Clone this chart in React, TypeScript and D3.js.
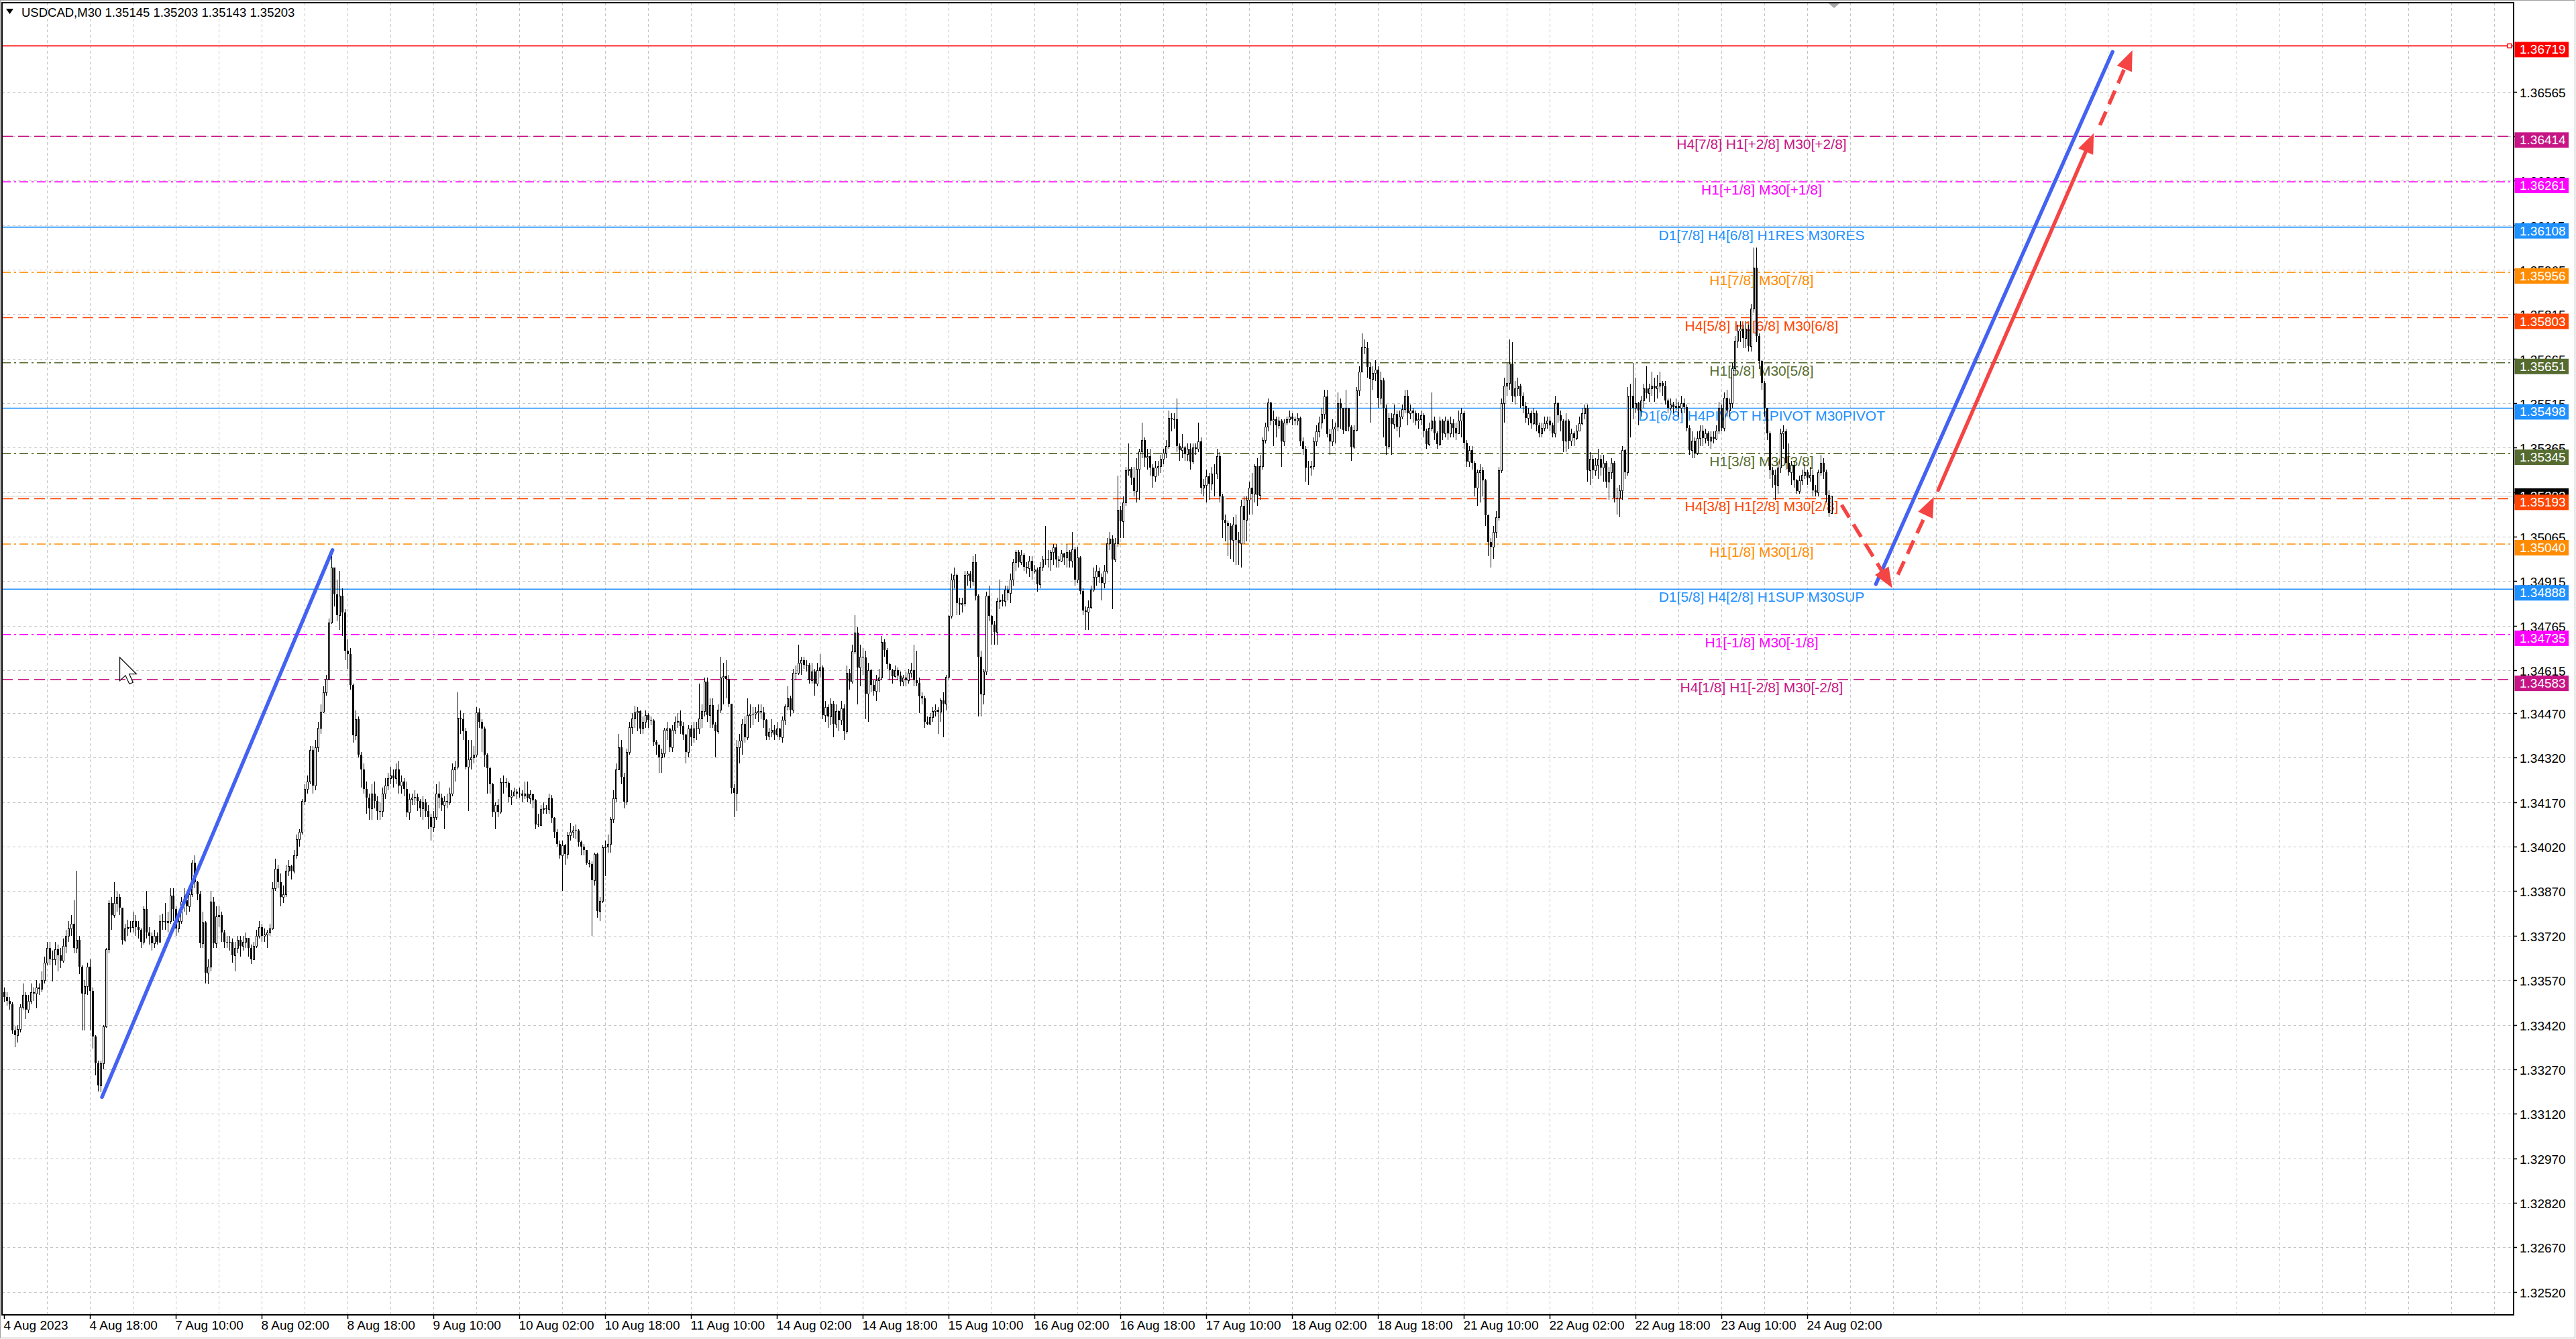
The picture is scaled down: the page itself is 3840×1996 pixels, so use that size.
import React from 'react';
import * as d3 from 'd3';

// ---------- DATA (prices in points above 1.30000) ----------
const FIRST_OPEN = 3530;
const closes = [
3515,3500,3490,3400,3385,3405,3480,3520,3470,3500,
3530,3525,3545,3540,3570,3630,3680,3640,3640,3675,
3655,3635,3685,3720,3745,3760,3680,3705,3615,3525,
3550,3615,3535,3380,3290,3215,3290,3415,3675,3830,
3790,3830,3850,3815,3705,3745,3750,3750,3770,3750,
3740,3700,3810,3730,3720,3695,3720,3700,3770,3770,
3765,3770,3855,3810,3745,3770,3835,3840,3820,3860,
3965,3900,3860,3695,3765,3595,3615,3835,3695,3785,
3790,3730,3700,3700,3700,3655,3680,3705,3685,3700,
3712,3680,3640,3685,3720,3750,3720,3725,3730,3745,
3880,3945,3900,3850,3860,3940,3955,3940,3990,4045,
4070,4175,4215,4240,4345,4225,4355,4420,4475,4540,
4585,4775,4960,4870,4800,4865,4810,4680,4670,4565,
4395,4450,4330,4280,4215,4185,4150,4200,4175,4140,
4140,4200,4225,4250,4260,4250,4280,4225,4240,4215,
4135,4180,4185,4187,4175,4150,4170,4140,4120,4085,
4120,4200,4185,4160,4175,4170,4200,4280,4290,4455,
4450,4410,4290,4315,4322,4330,4473,4440,4418,4330,
4285,4230,4138,4160,4138,4238,4238,4234,4188,4193,
4205,4200,4200,4192,4200,4184,4196,4176,4096,4092,
4146,4150,4146,4184,4117,4071,4029,3992,4025,3996,
4058,4071,4075,4075,4037,4021,4008,3966,3962,3908,
3996,3803,3837,4017,4021,4029,4113,4184,4280,4356,
4255,4172,4339,4423,4452,4473,4477,4418,4440,4464,
4448,4446,4372,4364,4322,4335,4414,4418,4356,4414,
4440,4444,4427,4397,4339,4418,4389,4418,4418,4452,
4477,4577,4464,4498,4431,4410,4481,4590,4594,4586,
4502,4218,4201,4356,4377,4435,4389,4464,4469,4469,
4473,4476,4473,4448,4393,4406,4414,4397,4418,4389,
4448,4494,4519,4481,4607,4607,4640,4649,4632,4632,
4582,4611,4569,4615,4623,4464,4490,4460,4502,4435,
4477,4448,4485,4410,4607,4577,4678,4741,4623,4661,
4657,4536,4615,4565,4544,4582,4590,4711,4682,4636,
4615,4594,4615,4598,4577,4590,4582,4607,4615,4582,
4573,4527,4519,4440,4435,4456,4477,4481,4474,4513,
4503,4592,4798,4920,4935,4842,4837,4842,4935,4940,
4915,4979,4866,4660,4533,4611,4866,4798,4768,4744,
4847,4852,4847,4886,4876,4920,4979,5013,4979,5004,
4964,4959,4984,4950,4954,4905,4964,4989,4989,4989,
5013,5028,4989,4984,5008,4994,5013,4984,5023,4920,
4994,4881,4817,4812,4827,4886,4930,4950,4930,4910,
4950,5043,5057,4989,5043,5156,5116,5180,5288,5293,
5263,5219,5293,5352,5391,5332,5337,5298,5268,5298,
5303,5327,5347,5371,5465,5460,5460,5371,5357,5366,
5342,5362,5317,5366,5362,5386,5229,5239,5268,5244,
5278,5278,5337,5200,5121,5111,5102,5053,5106,5053,
5043,5170,5121,5190,5229,5210,5303,5205,5303,5391,
5435,5518,5455,5460,5440,5455,5386,5450,5460,5470,
5460,5455,5465,5386,5362,5298,5298,5303,5386,5420,
5450,5479,5538,5411,5386,5430,5435,5514,5499,5425,
5499,5435,5367,5425,5558,5622,5705,5700,5636,5597,
5617,5627,5533,5592,5499,5371,5465,5445,5479,5435,
5470,5494,5540,5481,5490,5481,5456,5460,5473,5423,
5377,5431,5456,5414,5377,5456,5414,5456,5414,5448,
5431,5414,5456,5481,5381,5318,5356,5314,5230,5281,
5289,5255,5138,5046,5030,5080,5130,5289,5515,5574,
5582,5649,5540,5565,5574,5540,5506,5465,5481,5448,
5481,5440,5414,5431,5448,5456,5440,5414,5515,5473,
5456,5389,5456,5389,5414,5398,5423,5448,5481,5498,
5289,5327,5289,5306,5327,5297,5314,5251,5281,5314,
5197,5197,5222,5356,5281,5540,5540,5498,5515,5490,
5523,5565,5548,5565,5574,5565,5574,5582,5574,5523,
5498,5511,5502,5506,5498,5515,5502,5431,5356,5389,
5348,5398,5423,5398,5414,5389,5402,5394,5423,5498,
5431,5532,5490,5515,5632,5724,5758,5766,5733,5766,
5707,5833,5971,5741,5657,5582,5498,5414,5289,5272,
5239,5297,5414,5419,5314,5281,5306,5255,5218,5255,
5272,5281,5264,5272,5222,5214,5281,5314,5281,5205,
5145,5203
];
const highs = [
3545,3530,3515,3495,3415,3420,3490,3560,3530,3520,
3560,3545,3570,3560,3600,3650,3700,3700,3670,3700,
3690,3680,3710,3740,3770,3790,3840,3940,3720,3620,
3570,3630,3640,3545,3385,3300,3300,3420,3680,3840,
3850,3900,3870,3860,3720,3760,3775,3770,3800,3790,
3770,3745,3820,3870,3750,3730,3740,3730,3790,3795,
3830,3800,3880,3880,3820,3790,3850,3880,3860,3880,
3975,3990,3905,3870,3800,3770,3640,3870,3850,3820,
3820,3800,3740,3720,3720,3710,3700,3720,3720,3720,
3730,3710,3690,3700,3740,3770,3760,3745,3740,3760,
3900,3980,3960,3930,3890,3960,3975,3960,4010,4060,
4080,4180,4230,4260,4360,4360,4380,4440,4500,4560,
4600,4790,5020,4960,4920,4950,4890,4820,4720,4690,
4570,4480,4460,4340,4300,4240,4200,4230,4240,4190,
4170,4220,4250,4270,4290,4280,4300,4310,4260,4250,
4240,4200,4200,4210,4200,4180,4190,4180,4160,4130,
4140,4230,4240,4200,4190,4200,4220,4300,4310,4540,
4480,4470,4420,4380,4380,4360,4490,4485,4450,4425,
4335,4290,4235,4170,4180,4250,4260,4250,4240,4210,
4220,4215,4220,4210,4240,4240,4210,4200,4180,4130,
4160,4170,4160,4200,4195,4120,4080,4040,4040,4030,
4070,4100,4090,4095,4080,4040,4030,4010,3975,3970,
4000,4000,3850,4025,4040,4060,4120,4210,4300,4400,
4380,4270,4350,4440,4470,4495,4490,4480,4460,4480,
4470,4460,4450,4380,4360,4350,4420,4440,4420,4430,
4460,4470,4480,4440,4400,4430,4430,4440,4440,4570,
4500,4590,4590,4520,4520,4440,4500,4660,4640,4650,
4600,4500,4230,4380,4400,4450,4460,4520,4500,4490,
4490,4500,4500,4490,4450,4420,4450,4430,4440,4420,
4460,4500,4560,4530,4620,4630,4700,4660,4660,4650,
4640,4640,4620,4640,4670,4630,4510,4500,4520,4510,
4500,4480,4510,4500,4630,4620,4700,4800,4760,4700,
4690,4680,4640,4620,4580,4600,4620,4730,4720,4690,
4640,4620,4630,4625,4610,4600,4610,4620,4640,4700,
4680,4590,4540,4530,4460,4470,4490,4500,4490,4520,
4540,4600,4800,4940,4960,4940,4860,4860,4950,4950,
4950,5000,5005,4870,4680,4620,4880,4900,4800,4780,
4860,4920,4870,4900,4900,4940,4990,5020,5020,5020,
5010,4980,5000,5000,4970,4960,4980,5000,5100,5020,
5020,5040,5040,5000,5020,5010,5040,5020,5080,5030,
5030,5000,4890,4830,4850,4900,4960,4970,4960,4940,
4970,5060,5080,5070,5060,5270,5170,5200,5300,5380,
5300,5300,5330,5360,5450,5400,5360,5360,5310,5320,
5320,5340,5360,5390,5490,5480,5480,5530,5380,5410,
5370,5380,5380,5380,5380,5450,5400,5260,5290,5280,
5300,5310,5360,5350,5210,5140,5120,5110,5130,5140,
5080,5190,5200,5200,5250,5280,5310,5330,5340,5400,
5450,5530,5520,5490,5470,5470,5460,5460,5470,5490,
5480,5470,5480,5470,5400,5370,5320,5320,5400,5440,
5470,5500,5560,5560,5430,5460,5450,5550,5530,5460,
5560,5500,5440,5440,5570,5640,5750,5730,5720,5650,
5640,5660,5640,5620,5600,5510,5480,5480,5510,5490,
5490,5510,5560,5560,5510,5500,5490,5480,5490,5480,
5430,5450,5550,5470,5420,5470,5460,5470,5460,5470,
5460,5450,5490,5500,5490,5390,5370,5370,5320,5290,
5310,5300,5260,5140,5060,5100,5150,5300,5530,5600,
5650,5730,5720,5590,5600,5580,5550,5520,5500,5490,
5500,5490,5450,5450,5470,5470,5470,5450,5540,5520,
5490,5460,5480,5460,5430,5420,5440,5470,5500,5510,
5510,5350,5340,5330,5360,5340,5340,5320,5300,5330,
5320,5230,5240,5370,5360,5570,5580,5650,5600,5520,
5540,5580,5640,5580,5620,5600,5610,5620,5590,5590,
5530,5530,5520,5530,5520,5540,5530,5510,5440,5420,
5400,5420,5440,5440,5430,5420,5420,5420,5440,5520,
5510,5550,5560,5530,5650,5740,5780,5790,5780,5790,
5780,5850,6040,6040,5750,5660,5590,5500,5420,5300,
5290,5320,5430,5440,5430,5380,5320,5320,5260,5270,
5290,5310,5290,5300,5290,5240,5290,5340,5330,5290,
5220,5203
];
const lows = [
3495,3485,3470,3390,3345,3360,3395,3470,3440,3460,
3490,3500,3475,3520,3530,3560,3620,3620,3565,3620,
3600,3610,3630,3660,3700,3720,3660,3660,3590,3400,
3400,3520,3400,3340,3250,3195,3193,3270,3410,3660,
3740,3780,3800,3790,3690,3700,3720,3730,3730,3720,
3710,3680,3690,3710,3690,3670,3680,3690,3700,3740,
3740,3730,3760,3770,3720,3730,3760,3800,3790,3800,
3850,3880,3840,3680,3680,3560,3556,3600,3680,3680,
3750,3700,3680,3680,3670,3630,3600,3660,3650,3670,
3680,3650,3625,3640,3680,3710,3700,3700,3680,3720,
3740,3870,3880,3820,3830,3850,3920,3910,3930,3980,
4020,4060,4160,4200,4230,4200,4210,4340,4400,4470,
4530,4580,4770,4830,4780,4750,4730,4650,4620,4550,
4370,4380,4320,4220,4200,4130,4110,4110,4150,4110,
4110,4120,4180,4210,4230,4220,4230,4200,4200,4190,
4120,4110,4160,4160,4140,4120,4110,4120,4080,4040,
4070,4110,4150,4140,4080,4150,4160,4190,4240,4280,
4400,4380,4280,4140,4280,4300,4320,4420,4340,4290,
4200,4200,4120,4080,4120,4130,4200,4220,4170,4160,
4190,4180,4185,4170,4180,4170,4165,4150,4080,4085,
4090,4130,4130,4130,4100,4050,4020,3980,3870,3960,
3980,4040,4050,4045,4020,3990,3990,3960,3950,3720,
3890,3780,3770,3830,3920,4000,4000,4100,4170,4280,
4230,4150,4160,4330,4400,4420,4410,4400,4400,4420,
4420,4430,4360,4330,4270,4270,4320,4380,4340,4340,
4400,4420,4400,4380,4300,4320,4360,4370,4380,4400,
4420,4460,4440,4420,4420,4320,4400,4470,4500,4520,
4490,4200,4120,4140,4300,4330,4370,4380,4420,4430,
4450,4440,4450,4420,4380,4380,4390,4380,4390,4380,
4370,4430,4480,4460,4470,4580,4600,4600,4620,4610,
4570,4570,4530,4560,4590,4450,4440,4420,4430,4390,
4420,4410,4430,4380,4400,4550,4570,4670,4500,4560,
4600,4450,4440,4540,4530,4510,4540,4580,4660,4620,
4580,4570,4590,4580,4560,4560,4560,4570,4590,4560,
4560,4470,4500,4420,4430,4430,4440,4460,4400,4440,
4390,4480,4580,4790,4890,4800,4800,4810,4830,4900,
4890,4900,4850,4460,4460,4500,4600,4780,4700,4700,
4700,4820,4830,4830,4850,4840,4900,4950,4960,4970,
4950,4940,4930,4920,4940,4880,4890,4950,4970,4960,
4950,4970,4960,4960,4980,4970,4960,4960,4960,4900,
4910,4870,4800,4750,4750,4820,4880,4900,4910,4850,
4890,4940,5020,4820,4980,5030,5060,5060,5170,5270,
5240,5200,5180,5190,5330,5300,5290,5270,5230,5250,
5270,5280,5310,5330,5360,5420,5430,5350,5320,5330,
5320,5320,5290,5310,5340,5350,5210,5200,5180,5190,
5220,5200,5260,5180,5060,5050,5000,4990,4980,4970,
4970,4960,5040,5050,5140,5140,5180,5170,5190,5290,
5380,5420,5440,5370,5400,5430,5300,5370,5440,5450,
5440,5440,5440,5370,5340,5250,5240,5270,5290,5370,
5400,5430,5460,5400,5340,5370,5380,5420,5430,5410,
5420,5420,5320,5360,5420,5540,5620,5680,5600,5450,
5560,5590,5500,5510,5400,5340,5360,5340,5430,5420,
5400,5460,5480,5440,5460,5450,5440,5430,5440,5400,
5360,5370,5420,5390,5360,5370,5390,5400,5390,5400,
5400,5390,5420,5400,5360,5300,5300,5290,5200,5170,
5180,5200,5100,5000,4960,4990,5060,5120,5280,5450,
5540,5560,5520,5510,5540,5500,5480,5450,5440,5430,
5440,5420,5400,5400,5420,5430,5420,5400,5400,5450,
5420,5350,5350,5360,5370,5370,5390,5420,5440,5460,
5250,5240,5260,5270,5260,5270,5250,5230,5190,5260,
5180,5140,5130,5190,5260,5270,5400,5460,5480,5440,
5470,5500,5530,5520,5540,5520,5530,5550,5540,5510,
5480,5490,5480,5490,5470,5480,5480,5420,5340,5330,
5330,5340,5370,5370,5380,5370,5360,5380,5390,5410,
5420,5420,5470,5470,5500,5610,5700,5720,5700,5700,
5690,5690,5820,5720,5630,5560,5470,5390,5260,5230,
5190,5210,5280,5360,5290,5270,5240,5230,5210,5210,
5240,5260,5240,5250,5200,5200,5200,5270,5260,5180,
5130,5143
];

const timeLabels = [
  '4 Aug 2023', '4 Aug 18:00', '7 Aug 10:00', '8 Aug 02:00', '8 Aug 18:00', '9 Aug 10:00',
  '10 Aug 02:00', '10 Aug 18:00', '11 Aug 10:00', '14 Aug 02:00', '14 Aug 18:00', '15 Aug 10:00',
  '16 Aug 02:00', '16 Aug 18:00', '17 Aug 10:00', '18 Aug 02:00', '18 Aug 18:00', '21 Aug 10:00',
  '22 Aug 02:00', '22 Aug 18:00', '23 Aug 10:00', '24 Aug 02:00'
];
const BARS_PER_LABEL = 32;
const BARS_PER_VGRID = 16;

const priceTicks = [
  '1.36565', '1.36415', '1.36265', '1.36115', '1.35965', '1.35815', '1.35665', '1.35515',
  '1.35365', '1.35215', '1.35065', '1.34915', '1.34765', '1.34615', '1.34470', '1.34320',
  '1.34170', '1.34020', '1.33870', '1.33720', '1.33570', '1.33420', '1.33270', '1.33120',
  '1.32970', '1.32820', '1.32670', '1.32520'
];

const levelPrices = [1.36719, 1.36414, 1.36261, 1.36108, 1.35956, 1.35803, 1.35651, 1.35498, 1.35345, 1.35193, 1.35040, 1.34888, 1.34735, 1.34583];
const levelNames = [
  '', 'H4[7/8] H1[+2/8] M30[+2/8]', 'H1[+1/8] M30[+1/8]', 'D1[7/8] H4[6/8] H1RES M30RES',
  'H1[7/8] M30[7/8]', 'H4[5/8] H1[6/8] M30[6/8]', 'H1[5/8] M30[5/8]', 'D1[6/8] H4PIVOT H1PIVOT M30PIVOT',
  'H1[3/8] M30[3/8]', 'H4[3/8] H1[2/8] M30[2/8]', 'H1[1/8] M30[1/8]', 'D1[5/8] H4[2/8] H1SUP M30SUP',
  'H1[-1/8] M30[-1/8]', 'H4[1/8] H1[-2/8] M30[-2/8]'
];
const levelKinds = ['top', 'pm2', 'pm1', 'blue', 'o', 'r', 'g', 'blue', 'g', 'r', 'o', 'blue', 'pm1', 'pm2'];

const bidPrice = 1.35203;
const symbolTitle = 'USDCAD,M30  1.35145 1.35203 1.35143 1.35203';

// trend lines: [bar1, price1, bar2, price2]
const blueLines = [
  [36.5, 1.33176, 122.4, 1.35020],
  [697.6, 1.34905, 785.8, 1.36699]
];
// red path segments: [bar1, price1, bar2, price2, dashed(1)/solid(0)]
const redArrows = [
  [684.8, 1.35172, 703.7, 1.34892, 1],
  [705.8, 1.34937, 719.2, 1.35199, 1],
  [720.8, 1.35222, 778.8, 1.36425, 0],
  [781.1, 1.36452, 793.2, 1.36704, 1]
];

// ---------- STYLES ----------
const W = 3840, H = 1996;
const PL = 3, PT = 4, PR = 3747, PB = 1960;
const FONT = '"Liberation Sans", Arial, sans-serif';
const kindStyle: Record<string, { color: string; dash: string | undefined }> = {
  top: { color: '#FF0000', dash: undefined },
  pm2: { color: '#C71585', dash: '16,8' },
  pm1: { color: '#FF00FF', dash: '13,5,3,5' },
  blue: { color: '#1E90FF', dash: undefined },
  o: { color: '#FF8C00', dash: '13,5,3,5' },
  r: { color: '#FF4500', dash: '16,8' },
  g: { color: '#556B2F', dash: '13,5,3,5' }
};
const BLUE = '#4462F2';
const RED = '#F54444';

const x = d3.scaleLinear().domain([0, 1]).range([6, 10]);
const y = d3.scaleLinear().domain([1.36565, 1.32520]).range([136.5, 1925.6]);
const pt = (v: number) => 1.3 + v / 100000;

function Arrow({ x1, y1, x2, y2, dashed, color }: any) {
  const dx = x2 - x1, dy = y2 - y1;
  const len = Math.hypot(dx, dy);
  const ux = dx / len, uy = dy / len;
  const hl = 30, hw = 12;
  const bx = x2 - ux * hl, by = y2 - uy * hl;
  const lx = x2 - ux * (hl * 0.7), ly = y2 - uy * (hl * 0.7);
  const pts = [[x2, y2], [bx - uy * hw, by + ux * hw], [bx + uy * hw, by - ux * hw]];
  return (
    <g>
      <line x1={x1} y1={y1} x2={lx} y2={ly} stroke={color} strokeWidth={5.5}
        strokeDasharray={dashed ? '22,12' : undefined} strokeLinecap={dashed ? 'butt' : 'round'} />
      <polygon points={pts.map(p => p.join(',')).join(' ')} fill={color} />
    </g>
  );
}

export default function App() {
  const N = closes.length;
  const candles = closes.map((c, i) => {
    const o = i === 0 ? FIRST_OPEN : closes[i - 1];
    const h = Math.max(highs[i], o, c);
    const l = Math.min(lows[i], o, c);
    return { i, o, h, l, c };
  });

  const vgrid: number[] = [];
  for (let b = BARS_PER_VGRID; x(b) < PR - 2; b += BARS_PER_VGRID) vgrid.push(b);

  return (
    <svg width={W} height={H} style={{ position: 'absolute', left: 0, top: 0, display: 'block', background: '#fff' }}
      fontFamily={FONT}>
      <rect x={0} y={0} width={W} height={H} fill="#fff" />
      {/* window frame */}
      <rect x={0.5} y={0.5} width={W - 2} height={H - 2} fill="none" stroke="#A0A0A0" strokeWidth={1} />

      {/* grid */}
      <g stroke="#C3C3C3" strokeWidth={1.2} strokeDasharray="4,4" shapeRendering="crispEdges">
        {priceTicks.map(t => (
          <line key={t} x1={PL} x2={PR} y1={Math.round(y(+t)) + 0.5} y2={Math.round(y(+t)) + 0.5} />
        ))}
        {vgrid.map(b => (
          <line key={b} x1={Math.round(x(b)) + 0.5} x2={Math.round(x(b)) + 0.5} y1={PT} y2={PB} />
        ))}
      </g>

      {/* level lines */}
      {levelPrices.map((p, k) => {
        const st = kindStyle[levelKinds[k]];
        const yy = y(p);
        return <line key={'lv' + k} x1={PL} x2={PR} y1={yy} y2={yy} stroke={st.color} strokeWidth={1.6}
          strokeDasharray={st.dash} />;
      })}
      {/* top line marker */}
      <rect x={PR - 9} y={y(levelPrices[0]) - 3} width={6} height={6} fill="#fff" stroke="#FF0000" strokeWidth={1.5} />

      {/* bid line */}
      <line x1={PL} x2={PR} y1={Math.round(y(bidPrice)) + 0.5} y2={Math.round(y(bidPrice)) + 0.5}
        stroke="#C0C0C0" strokeWidth={1.2} />

      {/* level labels */}
      {levelPrices.map((p, k) => levelNames[k] ? (
        <text key={'lt' + k} x={2626} y={y(p) + 19} textAnchor="middle" fontSize={21}
          fill={kindStyle[levelKinds[k]].color}>{levelNames[k]}</text>
      ) : null)}

      {/* candles */}
      <g shapeRendering="crispEdges">
        {candles.map(d => {
          const cx = Math.round(x(d.i));
          const yo = y(pt(d.o)), yc = y(pt(d.c));
          const top = Math.round(Math.min(yo, yc)), bot = Math.round(Math.max(yo, yc));
          const bull = d.c >= d.o;
          return (
            <g key={d.i}>
              <line x1={cx + 0.5} x2={cx + 0.5} y1={Math.round(y(pt(d.h)))} y2={Math.round(y(pt(d.l)))}
                stroke="#000" strokeWidth={1} />
              {bot - top < 1 ? (
                <line x1={cx - 1} x2={cx + 2} y1={top + 0.5} y2={top + 0.5} stroke="#000" strokeWidth={1} />
              ) : bull ? (
                <rect x={cx - 0.5} y={top + 0.5} width={2} height={bot - top - 1 < 1 ? 1 : bot - top - 1 + 1}
                  fill="#fff" stroke="#000" strokeWidth={1} />
              ) : (
                <rect x={cx - 1} y={top} width={3} height={bot - top} fill="#000" />
              )}
            </g>
          );
        })}
      </g>

      {/* trend lines */}
      {blueLines.map((l, k) => (
        <line key={'bl' + k} x1={x(l[0])} y1={y(l[1])} x2={x(l[2])} y2={y(l[3])}
          stroke={BLUE} strokeWidth={5.5} strokeLinecap="round" />
      ))}
      {redArrows.map((a, k) => (
        <Arrow key={'ra' + k} x1={x(a[0])} y1={y(a[1])} x2={x(a[2])} y2={y(a[3])} dashed={a[4] === 1} color={RED} />
      ))}

      {/* cursor */}
      <path transform="translate(178.6,980) scale(2.1)"
        d="M0,0 L0,16.5 L4,12.8 L6.8,18.8 L9.4,17.7 L6.7,11.8 L11.8,11.8 Z"
        fill="#fff" stroke="#000" strokeWidth={0.55} strokeLinejoin="miter" />

      {/* chart border */}
      <rect x={PL} y={PT} width={PR - PL} height={PB - PT} fill="none" stroke="#000" strokeWidth={2}
        shapeRendering="crispEdges" />

      {/* chart shift marker */}
      <polygon points="2726,5 2742,5 2734,12" fill="#A8A8A8" />

      {/* title */}
      <polygon points="9,13 20,13 14.5,21" fill="#000" />
      <text x={32} y={25} fontSize={18.5} fill="#000">{symbolTitle}</text>

      {/* price axis */}
      <g>
        {priceTicks.map(t => {
          const yy = Math.round(y(+t)) + 0.5;
          return (
            <g key={'pt' + t}>
              <line x1={PR} x2={PR + 5} y1={yy} y2={yy} stroke="#000" strokeWidth={1.5} />
              <text x={3756} y={yy + 7} fontSize={19} fill="#000">{t}</text>
            </g>
          );
        })}
      </g>

      {/* bid box */}
      <rect x={3748.5} y={y(bidPrice) - 11} width={80.5} height={23} fill="#000" />
      <text x={3756} y={y(bidPrice) - 11 + 18} fontSize={19} fill="#fff">{bidPrice.toFixed(5)}</text>

      {/* level boxes */}
      {levelPrices.map((p, k) => {
        const yy = y(p);
        return (
          <g key={'lb' + k}>
            <rect x={3748.5} y={yy - 6} width={80.5} height={23} fill={kindStyle[levelKinds[k]].color} />
            <text x={3756} y={yy - 6 + 18} fontSize={19} fill="#fff">{p.toFixed(5)}</text>
          </g>
        );
      })}

      {/* time axis */}
      {timeLabels.map((t, k) => {
        const xx = Math.round(x(k * BARS_PER_LABEL)) + 0.5;
        return (
          <g key={'tl' + k}>
            <line x1={xx} x2={xx} y1={PB} y2={PB + 6} stroke="#000" strokeWidth={1.5} />
            <text x={xx - 1} y={1982} fontSize={19} fill="#000">{t}</text>
          </g>
        );
      })}
      <text x={0} y={0} fontSize={1} fill="none">{N}</text>
    </svg>
  );
}
